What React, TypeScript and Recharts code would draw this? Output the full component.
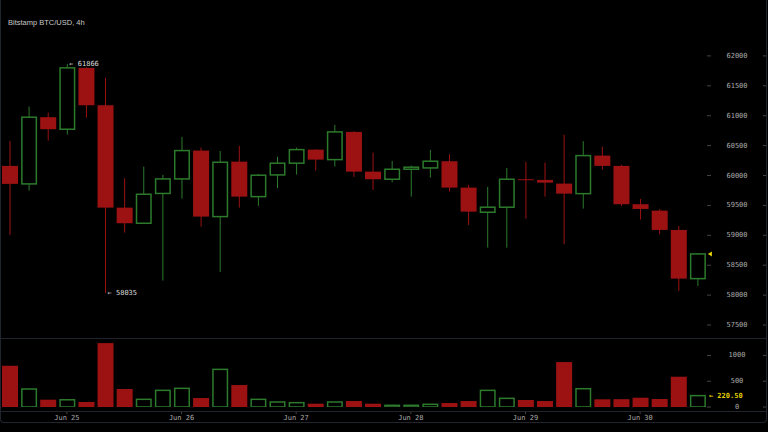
import React from 'react'
import { Bar, BarChart, ComposedChart, XAxis, YAxis } from 'recharts'

// 4h candles, Jun 24 12:00 .. Jun 30 12:00
const times = [
  'Jun 24 12:00', 'Jun 24 16:00', 'Jun 24 20:00',
  'Jun 25 00:00', 'Jun 25 04:00', 'Jun 25 08:00', 'Jun 25 12:00', 'Jun 25 16:00', 'Jun 25 20:00',
  'Jun 26 00:00', 'Jun 26 04:00', 'Jun 26 08:00', 'Jun 26 12:00', 'Jun 26 16:00', 'Jun 26 20:00',
  'Jun 27 00:00', 'Jun 27 04:00', 'Jun 27 08:00', 'Jun 27 12:00', 'Jun 27 16:00', 'Jun 27 20:00',
  'Jun 28 00:00', 'Jun 28 04:00', 'Jun 28 08:00', 'Jun 28 12:00', 'Jun 28 16:00', 'Jun 28 20:00',
  'Jun 29 00:00', 'Jun 29 04:00', 'Jun 29 08:00', 'Jun 29 12:00', 'Jun 29 16:00', 'Jun 29 20:00',
  'Jun 30 00:00', 'Jun 30 04:00', 'Jun 30 08:00', 'Jun 30 12:00',
]

const open = [
  60161, 59860, 60975, 60774, 61800, 61175, 59463, 59202, 59700, 59943,
  60417, 59313, 60232, 59647, 60010, 60206, 60433, 60266, 60729, 60065,
  59938, 60105, 60127, 60239, 59798, 59386, 59470, 59938, 59926, 59865,
  59697, 60333, 60161, 59520, 59413, 59090, 58276,
]
const high = [
  60579, 61152, 61052, 61866, 61810, 61637, 59955, 60149, 60010, 60645,
  60467, 60411, 60495, 60027, 60316, 60467, 60440, 60846, 60740, 60383,
  60244, 60166, 60428, 60356, 59843, 59809, 60127, 60227, 60216, 60684,
  60574, 60483, 60180, 59609, 59440, 59157, 58705,
]
const low = [
  59007, 59748, 60584, 60684, 60969, 58035, 59045, 59195, 58243, 59614,
  59145, 58388, 59463, 59492, 59788, 60015, 60082, 60149, 59977, 59759,
  59888, 59647, 59965, 59731, 59174, 58794, 58794, 59279, 59647, 58851,
  59447, 60099, 59492, 59263, 59018, 58070, 58154,
]
const close = [
  59860, 60975, 60774, 61800, 61175, 59463, 59202, 59687, 59943, 60417,
  59313, 60222, 59647, 60005, 60206, 60433, 60266, 60729, 60065, 59938,
  60105, 60139, 60239, 59798, 59396, 59470, 59938, 59932, 59881, 59697,
  60333, 60161, 59520, 59441, 59090, 58276, 58689,
]
const volume = [
  800, 349, 142, 140, 97, 1240, 349, 149, 323, 362,
  174, 730, 426, 149, 97, 84, 64, 97, 116, 64,
  33, 33, 52, 77, 116, 323, 168, 136, 116, 872,
  355, 149, 152, 180, 155, 587, 220.5,
]

const dayTicks = ['Jun 25 00:00', 'Jun 26 00:00', 'Jun 27 00:00', 'Jun 28 00:00', 'Jun 29 00:00', 'Jun 30 00:00']
const priceTicks = [57500, 58000, 58500, 59000, 59500, 60000, 60500, 61000, 61500, 62000]
const volumeTicks = [0, 500, 1000]

const UP = '#2c7a2c'
const DOWN = '#9c1212'
const AXIS_TEXT = '#a9a9a9'
const MONO = '"DejaVu Sans Mono", monospace'

const rows = times.map((t, i) => ({
  time: t,
  open: open[i],
  high: high[i],
  low: low[i],
  close: close[i],
  range: [low[i], high[i]],
  volume: volume[i],
}))

const maxIdx = high.indexOf(Math.max(...high))
const minIdx = low.indexOf(Math.min(...low))
const lastIdx = rows.length - 1

function Candle(props: any) {
  const { x, y, width, height, payload, index } = props
  const { open: o, close: c, high: h, low: l } = payload
  const toY = (p: number) => y + ((h - p) / (h - l)) * height
  const up = c >= o
  const color = up ? UP : DOWN
  const cx = x + width / 2
  const top = toY(Math.max(o, c))
  const bot = toY(Math.min(o, c))
  const bodyH = Math.max(bot - top, 1)
  return (
    <g>
      <line x1={cx} x2={cx} y1={y} y2={y + height} stroke={color} strokeWidth={1} />
      {up ? (
        <rect x={x + 0.75} y={top} width={width - 1.5} height={bodyH} fill="#000" stroke={color} strokeWidth={1.5} />
      ) : (
        <rect x={x} y={top} width={width} height={bodyH} fill={color} />
      )}
      {index === maxIdx && (
        <text x={cx + 2} y={y} dominantBaseline="central" fontSize={7} fontFamily={MONO} fill="#d8d8d8">
          {'← ' + h}
        </text>
      )}
      {index === minIdx && (
        <text x={cx + 2} y={y + height} dominantBaseline="central" fontSize={7} fontFamily={MONO} fill="#d8d8d8">
          {'← ' + l}
        </text>
      )}
      {index === lastIdx && (
        <polygon
          points={`${x + width + 2},${toY(c)} ${x + width + 6},${toY(c) - 2.5} ${x + width + 6},${toY(c) + 2.5}`}
          fill="#e8d800"
        />
      )}
    </g>
  )
}

function VolumeBar(props: any) {
  const { x, y, width, height, payload, index } = props
  const up = payload.close >= payload.open
  return (
    <g>
      {up ? (
        <rect x={x + 0.75} y={y} width={width - 1.5} height={height} fill="#000" stroke={UP} strokeWidth={1.5} />
      ) : (
        <rect x={x} y={y} width={width} height={height} fill={DOWN} />
      )}
      {index === lastIdx && (
        <text x={x + width + 3} y={y} dominantBaseline="central" fontSize={7} fontFamily={MONO} fill="#e0d000" fontWeight="bold">
          {'← ' + payload.volume.toFixed(2)}
        </text>
      )}
    </g>
  )
}

function ValueTick(props: any) {
  const { x, y, payload } = props
  return (
    <g>
      <line x1={x} x2={x + 4} y1={y} y2={y} stroke="#444" />
      <text x={x + 30} y={y} textAnchor="middle" dominantBaseline="central" fontSize={7} fontFamily={MONO} fill={AXIS_TEXT}>
        {payload.value}
      </text>
      <line x1={x + 56} x2={x + 59} y1={y} y2={y} stroke="#444" />
    </g>
  )
}

function DayTick(props: any) {
  const { x, y, payload } = props
  if (!dayTicks.includes(payload.value)) return null
  return (
    <g>
      <line x1={x} x2={x} y1={y + 5} y2={y + 7} stroke="#444" />
      <text x={x} y={y + 10.5} textAnchor="middle" dominantBaseline="central" fontSize={7} fontFamily={MONO} fill={AXIS_TEXT}>
        {payload.value.slice(0, 6)}
      </text>
    </g>
  )
}

const line = '#20242d'

export default function App() {
  return (
    <div style={{ position: 'relative', width: 768, height: 432, background: '#000', overflow: 'hidden' }}>
      <style>{'body{margin:0;background:#000}'}</style>
      <div
        style={{
          position: 'absolute',
          left: 0,
          top: -6,
          width: 765,
          height: 427,
          border: `1px solid ${line}`,
          borderTopColor: 'transparent',
          borderRadius: 4,
        }}
      />
      <div style={{ position: 'absolute', left: 1, top: 338, width: 765, height: 1, background: line }} />
      <div style={{ position: 'absolute', left: 1, top: 411, width: 765, height: 1, background: line }} />
      <div
        style={{
          position: 'absolute',
          left: 8,
          top: 18,
          fontFamily: '"Liberation Sans", Arial, sans-serif',
          fontSize: 7.5,
          color: '#c8c8c8',
        }}
      >
        Bitstamp BTC/USD, 4h
      </div>

      <div style={{ position: 'absolute', left: 0, top: 0 }}>
        <ComposedChart width={768} height={338} data={rows} margin={{ top: 26, right: 0, bottom: 1, left: 0 }}>
          <XAxis dataKey="time" hide />
          <YAxis
            orientation="right"
            width={61}
            domain={[57300, 62500]}
            ticks={priceTicks}
            allowDataOverflow
            axisLine={false}
            tickLine={false}
            tickSize={0}
            tickMargin={0}
            tick={<ValueTick />}
          />
          <Bar dataKey="range" barSize={16} shape={<Candle />} isAnimationActive={false} />
        </ComposedChart>
      </div>

      <div style={{ position: 'absolute', left: 0, top: 338 }}>
        <BarChart width={768} height={94} data={rows} margin={{ top: 2, right: 0, bottom: 0, left: 0 }}>
          <XAxis
            dataKey="time"
            height={25}
            interval={0}
            axisLine={false}
            tickLine={false}
            tickSize={0}
            tickMargin={0}
            tick={<DayTick />}
          />
          <YAxis
            orientation="right"
            width={61}
            domain={[0, 1300]}
            ticks={volumeTicks}
            allowDataOverflow
            axisLine={false}
            tickLine={false}
            tickSize={0}
            tickMargin={0}
            tick={<ValueTick />}
          />
          <Bar dataKey="volume" barSize={16} shape={<VolumeBar />} isAnimationActive={false} />
        </BarChart>
      </div>
    </div>
  )
}
